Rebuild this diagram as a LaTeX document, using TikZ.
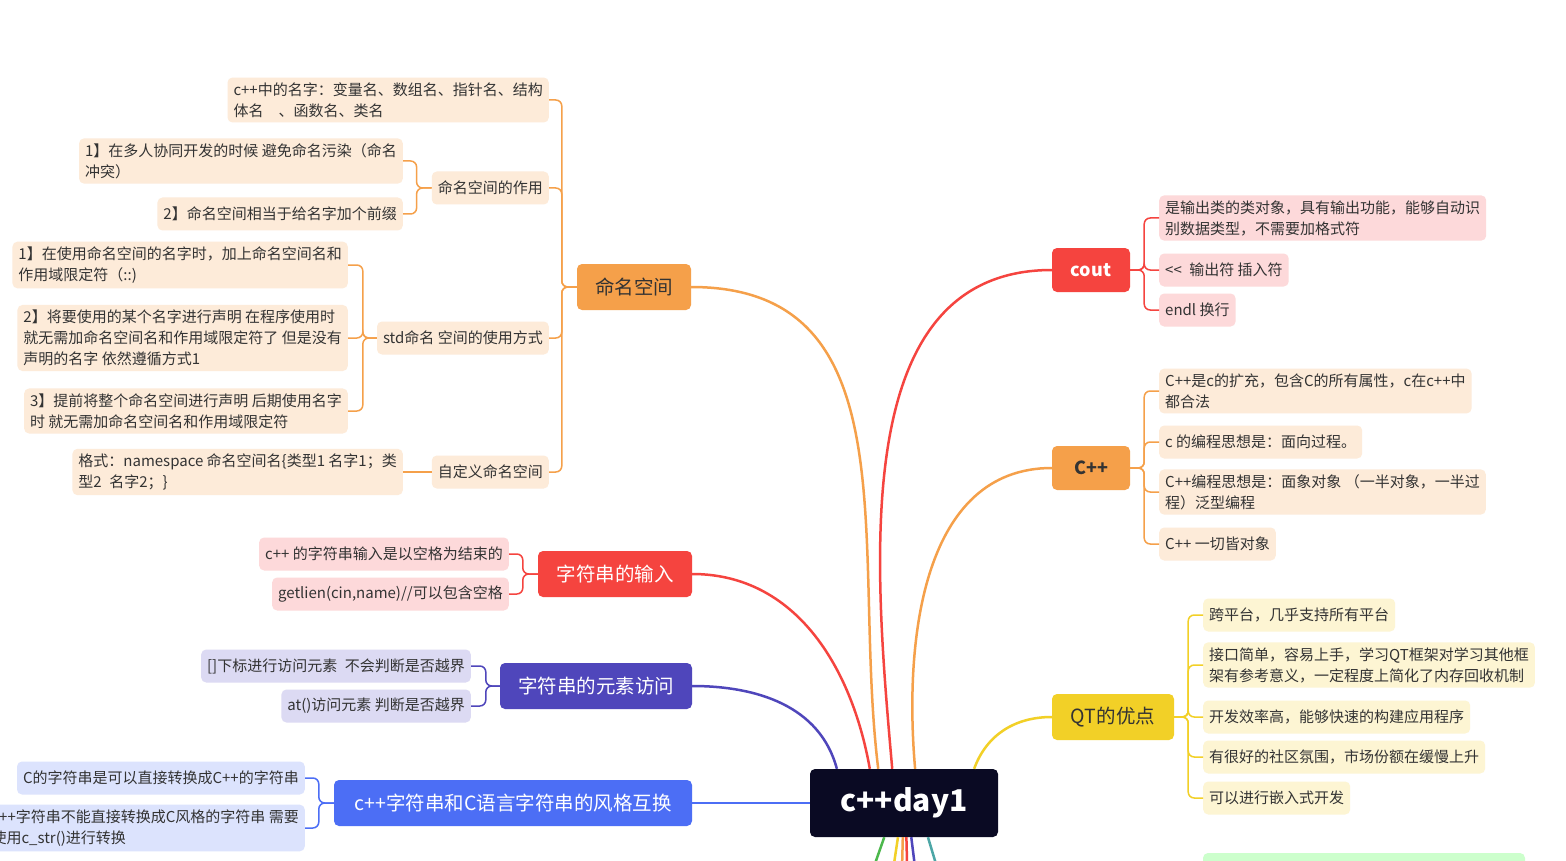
\documentclass[tikz,border=0pt]{standalone}
\usepackage{fontspec}
\setmainfont{Noto Sans CJK SC}
\usetikzlibrary{positioning,calc,arrows.meta}

\definecolor{rootc}{HTML}{0A0A23}
\definecolor{orgc}{HTML}{F5A04A}
\definecolor{redc}{HTML}{F5443F}
\definecolor{purc}{HTML}{4F46BB}
\definecolor{bluc}{HTML}{4C6EF5}
\definecolor{yelc}{HTML}{F2D027}
\definecolor{orgl}{HTML}{FDEBD9}
\definecolor{redl}{HTML}{FDD9DA}
\definecolor{purl}{HTML}{DCDAF3}
\definecolor{blul}{HTML}{DCE3FD}
\definecolor{yell}{HTML}{FDF5D3}
\definecolor{txt}{HTML}{333333}

\tikzset{
  main/.style={rounded corners=5pt, minimum height=46pt, inner xsep=4pt, font=\fontsize{19.5}{22}\selectfont},
  leaf/.style={rounded corners=5pt, minimum height=33pt, inner xsep=6pt, inner ysep=5pt,
    align=left, text=txt, font=\fontsize{15}{21}\selectfont},
  br/.style={line width=1.5pt, rounded corners=6pt},
  link/.style={line width=2.5pt}
}

\begin{document}
\begin{tikzpicture}[x=1pt,y=-1pt]
\useasboundingbox[fill=white] (0,0) rectangle (1566,861);
\clip (0,0) rectangle (1566,861);

% root
\node[fill=rootc, rounded corners=5pt, minimum width=188pt, minimum height=68pt, text=white,
  font=\fontsize{30}{32}\selectfont\bfseries] (root) at (904,803) {c++day1};

% bottom stubs
\draw[link,green!60!black!70] (root.-120) -- ++(-14,40);
\draw[link,yelc] (root.-100) -- ++(-6,40);
\draw[link,orgc] (root.-92) -- ++(-1,40);
\draw[link,redc] (root.-86) -- ++(1,40);
\draw[link,purc] (root.-78) -- ++(5,40);
\draw[link,teal!70] (root.-55) -- ++(12,40);
\fill[green!20, rounded corners=5pt] (1203,853) rectangle (1525,890);

% main branches
\node[main, fill=orgc, text=txt, minimum width=114pt] (ns) at (634,287) {命名空间};
\node[main, fill=redc, text=white, minimum width=78pt, minimum height=44pt, font=\fontsize{18}{22}\selectfont\bfseries] (cout) at (1091,270) {cout};
\node[main, fill=orgc, text=txt, minimum width=78pt, minimum height=44pt, font=\fontsize{18}{22}\selectfont\bfseries] (cpp) at (1091,468) {C++};
\node[main, fill=yelc, text=txt, minimum width=122pt] (qt) at (1113,717) {QT的优点};
\node[main, fill=redc, text=white, minimum width=154pt] (sin) at (615,574) {字符串的输入};
\node[main, fill=purc, text=white, minimum width=192pt] (sel) at (596,686) {字符串的元素访问};
\node[main, fill=bluc, text=white, minimum width=358pt] (scv) at (513,803) {c++字符串和C语言字符串的风格互换};

\draw[link,orgc] (root.127) to[out=97,in=0,looseness=1.1] (ns.east);
\draw[link,redc] (root.109) to[out=95,in=180,looseness=1] (cout.west);
\draw[link,orgc] (root.72) to[out=95,in=180,looseness=1] (cpp.west);
\draw[link,yelc] (root.26) to[out=70,in=180,looseness=1] (qt.west);
\draw[link,redc] (root.135) to[out=100,in=0,looseness=1] (sin.east);
\draw[link,purc] (root.153) to[out=105,in=0,looseness=1] (sel.east);
\draw[link,bluc] (root.west) -- (scv.east);

% 命名空间
\node[leaf, fill=orgl, anchor=east] (ns1) at (549,100) {c++中的名字：变量名、数组名、指针名、结构\\体名\quad 、函数名、类名};
\node[leaf, fill=orgl, anchor=east] (ns2) at (549,188) {命名空间的作用};
\node[leaf, fill=orgl, anchor=east] (ns3) at (549,338) {std命名 空间的使用方式};
\node[leaf, fill=orgl, anchor=east] (ns4) at (549,472) {自定义命名空间};
\foreach \c in {ns1,ns2,ns3,ns4}
  \draw[br,orgc] (ns.west) -- ++(-15,0) |- (\c.east);

\node[leaf, fill=orgl, anchor=east] (ns21) at (403,161) {1】在多人协同开发的时候 避免命名污染（命名\\冲突）};
\node[leaf, fill=orgl, anchor=east] (ns22) at (403,214) {2】命名空间相当于给名字加个前缀};
\foreach \c in {ns21,ns22}
  \draw[br,orgc] (ns2.west) -- ++(-15,0) |- (\c.east);

\node[leaf, fill=orgl, anchor=east] (ns31) at (348,265) {1】在使用命名空间的名字时，加上命名空间名和\\作用域限定符（::)};
\node[leaf, fill=orgl, anchor=east] (ns32) at (348,338) {2】将要使用的某个名字进行声明 在程序使用时\\就无需加命名空间名和作用域限定符了 但是没有\\声明的名字 依然遵循方式1};
\node[leaf, fill=orgl, anchor=east] (ns33) at (348,411) {3】提前将整个命名空间进行声明 后期使用名字\\时 就无需加命名空间名和作用域限定符};
\foreach \c in {ns31,ns32,ns33}
  \draw[br,orgc] (ns3.west) -- ++(-14,0) |- (\c.east);

\node[leaf, fill=orgl, anchor=east] (ns41) at (403,472) {格式：namespace 命名空间名\{类型1 名字1；类\\型2\enspace 名字2；\}};
\draw[br,orgc] (ns4.west) -- (ns41.east);

% cout
\node[leaf, fill=redl, anchor=west] (co1) at (1159,218) {是输出类的类对象，具有输出功能，能够自动识\\别数据类型，不需要加格式符};
\node[leaf, fill=redl, anchor=west] (co2) at (1159,270) {{<}{<}\enspace 输出符 插入符};
\node[leaf, fill=redl, anchor=west] (co3) at (1159,310) {endl 换行};
\foreach \c in {co1,co2,co3}
  \draw[br,redc] (cout.east) -- ++(14,0) |- (\c.west);

% C++
\node[leaf, fill=orgl, anchor=west] (cp1) at (1159,391) {C++是c的扩充，包含C的所有属性，c在c++中\\都合法};
\node[leaf, fill=orgl, anchor=west] (cp2) at (1159,442) {c 的编程思想是：面向过程。};
\node[leaf, fill=orgl, anchor=west] (cp3) at (1159,492) {C++编程思想是：面象对象 （一半对象，一半过\\程）泛型编程};
\node[leaf, fill=orgl, anchor=west] (cp4) at (1159,544) {C++ 一切皆对象};
\foreach \c in {cp1,cp2,cp3,cp4}
  \draw[br,orgc] (cpp.east) -- ++(14,0) |- (\c.west);

% QT
\node[leaf, fill=yell, anchor=west] (qt1) at (1203,615) {跨平台，几乎支持所有平台};
\node[leaf, fill=yell, anchor=west] (qt2) at (1203,665) {接口简单，容易上手，学习QT框架对学习其他框\\架有参考意义，一定程度上简化了内存回收机制};
\node[leaf, fill=yell, anchor=west] (qt3) at (1203,717) {开发效率高，能够快速的构建应用程序};
\node[leaf, fill=yell, anchor=west] (qt4) at (1203,757) {有很好的社区氛围，市场份额在缓慢上升};
\node[leaf, fill=yell, anchor=west] (qt5) at (1203,798) {可以进行嵌入式开发};
\foreach \c in {qt1,qt2,qt3,qt4,qt5}
  \draw[br,yelc] (qt.east) -- ++(14,0) |- (\c.west);

% 字符串的输入
\node[leaf, fill=redl, anchor=east] (si1) at (509,554) {c++ 的字符串输入是以空格为结束的};
\node[leaf, fill=redl, anchor=east] (si2) at (509,594) {getlien(cin,name)//可以包含空格};
\foreach \c in {si1,si2}
  \draw[br,redc] (sin.west) -- ++(-15,0) |- (\c.east);

% 字符串的元素访问
\node[leaf, fill=purl, anchor=east] (se1) at (471,666) {[]下标进行访问元素\enspace 不会判断是否越界};
\node[leaf, fill=purl, anchor=east] (se2) at (471,706) {at()访问元素 判断是否越界};
\foreach \c in {se1,se2}
  \draw[br,purc] (sel.west) -- ++(-14,0) |- (\c.east);

% 风格互换
\node[leaf, fill=blul, anchor=east] (sc1) at (305,778) {C的字符串是可以直接转换成C++的字符串};
\node[leaf, fill=blul, anchor=east] (sc2) at (305,828) {c++字符串不能直接转换成C风格的字符串 需要\\使用c\_str()进行转换};
\foreach \c in {sc1,sc2}
  \draw[br,bluc] (scv.west) -- ++(-15,0) |- (\c.east);
\end{tikzpicture}
\end{document}
